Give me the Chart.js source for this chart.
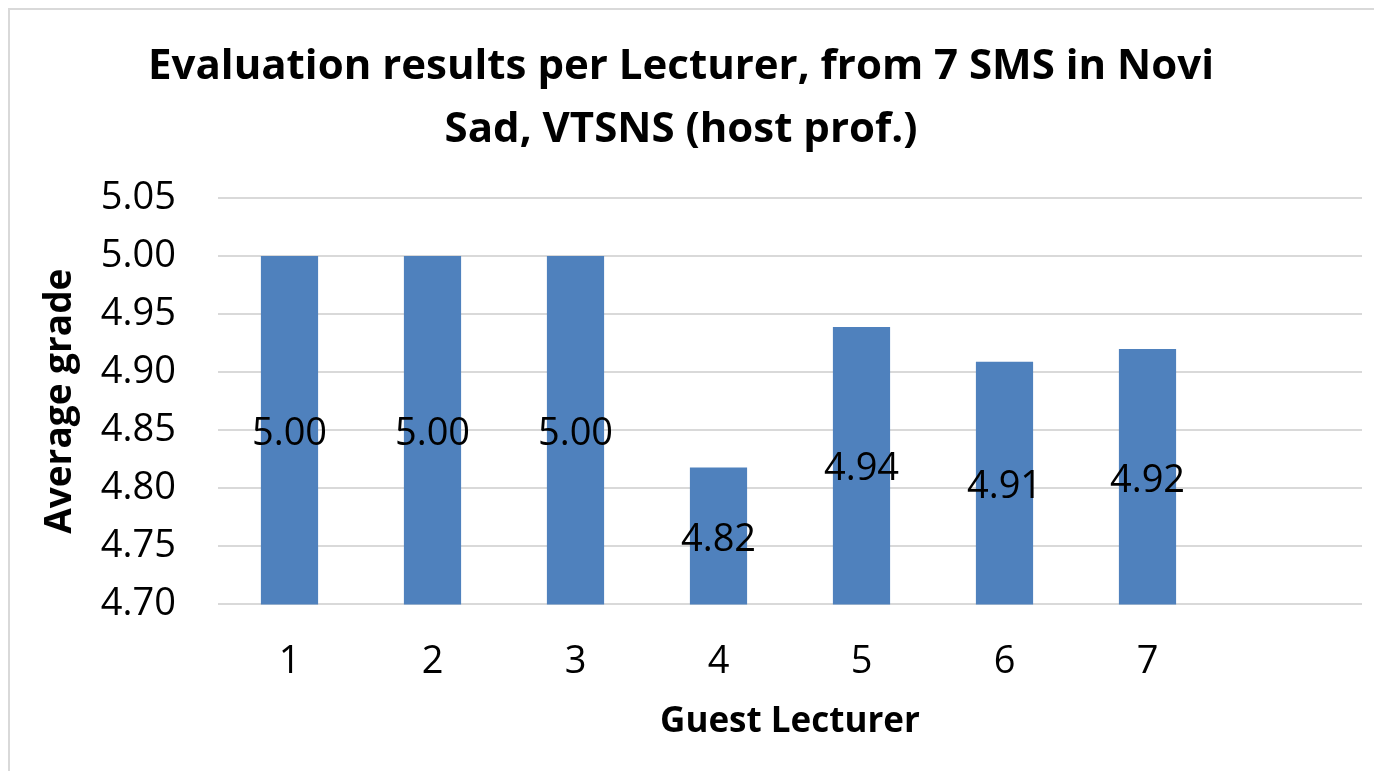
<!DOCTYPE html>
<html lang="en">
<head>
  <meta charset="UTF-8" />
  <title>Evaluation results per Lecturer</title>
  <script src="https://cdn.jsdelivr.net/npm/chart.js"></script>
  <style>
    html, body { margin: 0; padding: 0; background: #fff; }
    #wrap { position: relative; width: 1374px; height: 771px; overflow: hidden; }
    #frame {
      position: absolute; left: 8px; top: 8px; right: -4px; bottom: -4px;
      border-left: 2px solid #d9d9d9; border-top: 2px solid #d9d9d9;
      pointer-events: none;
    }
    canvas { position: absolute; left: 0; top: 0; }
  </style>
</head>
<body>
  <div id="wrap">
    <canvas id="myChart" width="1374" height="771"></canvas>
    <div id="frame"></div>
  </div>
  <script>
    // lecturers 1..7 plus one empty slot on the right, like the original sheet
    const lecturers = ['1', '2', '3', '4', '5', '6', '7', ''];
    const avgGrade = [5.00, 5.00, 5.00, 4.818, 4.939, 4.909, 4.92, null];
    const yTicks = { min: 4.70, max: 5.05, step: 0.05 };

    const FONT = "'Open Sans', sans-serif";

    // value labels in the middle of each bar
    const barLabels = {
      id: 'barLabels',
      afterDatasetsDraw(chart) {
        const ctx = chart.ctx;
        const xs = chart.scales.x, ys = chart.scales.y;
        ctx.save();
        ctx.font = '38px "Open Sans", sans-serif';
        ctx.fillStyle = '#000000';
        ctx.textAlign = 'center';
        ctx.textBaseline = 'middle';
        avgGrade.forEach((v, i) => {
          if (v == null) return;
          const top = ys.getPixelForValue(v);
          const base = ys.getPixelForValue(yTicks.min);
          ctx.fillText(v.toFixed(2), xs.getPixelForValue(i), (top + base) / 2 + 4);
        });
        ctx.restore();
      }
    };

    new Chart(document.getElementById('myChart'), {
      type: 'bar',
      data: {
        labels: lecturers,
        datasets: [{
          data: avgGrade,
          backgroundColor: '#4f81bd',
          barPercentage: 0.4,
          categoryPercentage: 1.0
        }]
      },
      options: {
        responsive: false,
        animation: false,
        layout: { padding: { left: 0, right: 12, top: 0, bottom: 28 } },
        plugins: {
          legend: { display: false },
          tooltip: { enabled: false },
          title: {
            display: true,
            text: ['Evaluation results per Lecturer, from 7 SMS in Novi', 'Sad, VTSNS (host prof.)'],
            color: '#000',
            font: { family: FONT, size: 42, weight: 'bold', lineHeight: 1.5 },
            padding: { top: 36, bottom: 36 }
          }
        },
        scales: {
          x: {
            grid: { display: false, drawTicks: false },
            border: { display: false },
            ticks: { color: '#000', padding: 35, font: { family: FONT, size: 38 } },
            title: {
              display: true,
              text: 'Guest Lecturer',
              color: '#000',
              font: { family: FONT, size: 35, weight: 'bold' },
              padding: { top: -19, bottom: 0 }
            }
          },
          y: {
            min: yTicks.min,
            max: yTicks.max,
            afterFit(scale) { scale.width = 218; },
            grid: { color: '#d9d9d9', lineWidth: 2, drawTicks: false },
            border: { display: false },
            ticks: {
              stepSize: yTicks.step,
              color: '#000',
              padding: 42,
              font: { family: FONT, size: 38 },
              callback: v => Number(v).toFixed(2)
            },
            title: {
              display: true,
              text: 'Average grade',
              color: '#000',
              font: { family: FONT, size: 37, weight: 'bold' },
              padding: { top: 38, bottom: 0 }
            }
          }
        }
      },
      plugins: [barLabels]
    });
  </script>
</body>
</html>
